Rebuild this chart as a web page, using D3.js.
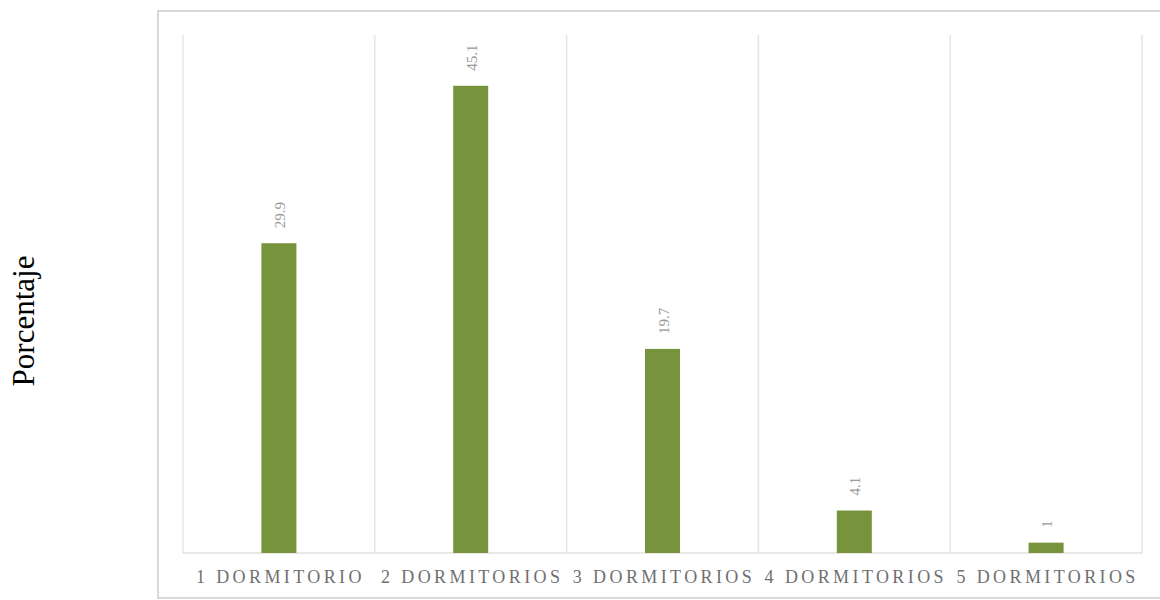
<!DOCTYPE html>
<html>
<head>
<meta charset="utf-8">
<script src="https://cdn.jsdelivr.net/npm/d3@7"></script>
<style>
  body { margin: 0; background: #fff; }
</style>
</head>
<body>
<div id="container"></div>
<script>
const categories = ["1 DORMITORIO", "2 DORMITORIOS", "3 DORMITORIOS", "4 DORMITORIOS", "5 DORMITORIOS"];
const values = [29.9, 45.1, 19.7, 4.1, 1];
const labels = ["29.9", "45.1", "19.7", "4.1", "1"];

const width = 1160;
const height = 600;

const svg = d3.select("#container").append("svg")
    .attr("width", width)
    .attr("height", height);

// chart frame
svg.append("rect")
    .attr("x", 158)
    .attr("y", 11)
    .attr("width", 1010)
    .attr("height", 587)
    .attr("fill", "none")
    .attr("stroke", "#d9d9d9")
    .attr("stroke-width", 2);

const x = d3.scaleBand().domain(categories).range([183, 1142]);
const y = d3.scaleLinear().domain([0, 50]).range([553, 35]);

// vertical gridlines between categories
const edges = categories.map(function(c) { return x(c); }).concat([x.range()[1]]);
svg.selectAll("line.grid").data(edges).enter()
    .append("line")
    .attr("class", "grid")
    .attr("x1", function(d) { return d; })
    .attr("x2", function(d) { return d; })
    .attr("y1", y(50))
    .attr("y2", y(0))
    .attr("stroke", "#e6e6e6")
    .attr("stroke-width", 1.5);

// baseline
svg.append("line")
    .attr("x1", x.range()[0])
    .attr("x2", x.range()[1])
    .attr("y1", y(0))
    .attr("y2", y(0))
    .attr("stroke", "#e0e0e0")
    .attr("stroke-width", 1.5);

const barW = 35;

svg.selectAll("rect.bar").data(values).enter()
    .append("rect")
    .attr("class", "bar")
    .attr("x", function(d, i) { return x(categories[i]) + x.bandwidth() / 2 - barW / 2; })
    .attr("y", function(d) { return y(d); })
    .attr("width", barW)
    .attr("height", function(d) { return y(0) - y(d); })
    .attr("fill", "#77933c");

// value labels, rotated
svg.selectAll("text.val").data(values).enter()
    .append("text")
    .attr("class", "val")
    .attr("transform", function(d, i) {
        const cx = x(categories[i]) + x.bandwidth() / 2 + 6;
        return "translate(" + cx + "," + (y(d) - 15) + ") rotate(-90)";
    })
    .attr("font-family", "'Liberation Serif', 'DejaVu Serif', serif")
    .attr("font-size", 15)
    .attr("fill", "#9a9a9a")
    .text(function(d, i) { return labels[i]; });

// category labels
svg.selectAll("text.cat").data(categories).enter()
    .append("text")
    .attr("class", "cat")
    .attr("x", function(d) { return x(d) + x.bandwidth() / 2 + 1.5; })
    .attr("y", 583)
    .attr("text-anchor", "middle")
    .attr("font-family", "'Liberation Serif', 'DejaVu Serif', serif")
    .attr("font-size", 18)
    .attr("letter-spacing", 3.4)
    .attr("fill", "#707070")
    .text(function(d) { return d; });

// y axis title
svg.append("text")
    .attr("transform", "translate(34,321) rotate(-90)")
    .attr("text-anchor", "middle")
    .attr("font-family", "'Liberation Serif', 'Times New Roman', serif")
    .attr("font-size", 31)
    .attr("fill", "#000")
    .text("Porcentaje");
</script>
</body>
</html>
